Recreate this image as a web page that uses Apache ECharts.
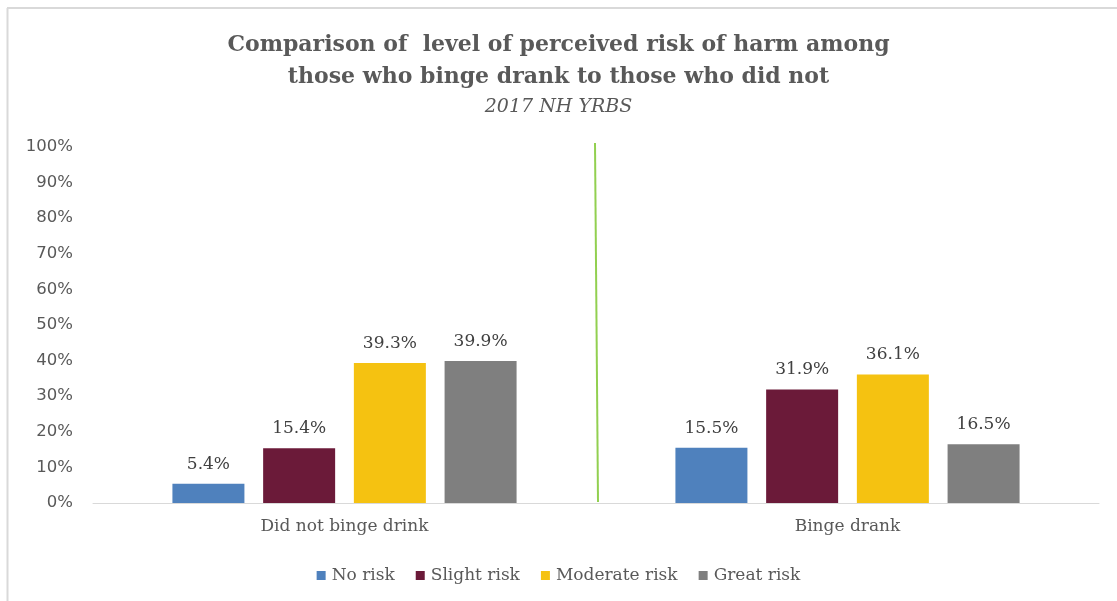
<!DOCTYPE html>
<html><head><meta charset="utf-8">
<script src="https://cdn.jsdelivr.net/npm/echarts@6/dist/echarts.min.js"></script>
<style>html,body{margin:0;padding:0;background:#fff}#c{width:1117px;height:601px}</style>
</head><body><div id="c"></div>
<script>
const categories = ["Did not binge drink", "Binge drank"];
const seriesNames = ["No risk", "Slight risk", "Moderate risk", "Great risk"];
const noRisk = [5.4, 15.5];
const slightRisk = [15.4, 31.9];
const moderateRisk = [39.3, 36.1];
const greatRisk = [39.9, 16.5];
const colors = ["#4f81bd", "#6b1a39", "#f5c211", "#7f7f7f"];
const titleLines = ["Comparison of  level of perceived risk of harm among", "those who binge drank to those who did not"];
const subtitle = "2017 NH YRBS";

const values = [noRisk, slightRisk, moderateRisk, greatRisk];
const serif = 'DejaVu Serif';
const chart = echarts.init(document.getElementById('c'));
chart.setOption({
  animation: false,
  title: {
    text: titleLines.join('\n'),
    subtext: subtitle,
    left: 'center', top: 24, itemGap: 5,
    textStyle: {fontFamily: serif, fontWeight: 'bold', fontSize: 22, color: '#595959', lineHeight: 32},
    subtextStyle: {fontFamily: serif, fontStyle: 'italic', fontSize: 19, color: '#595959'}
  },
  legend: {
    bottom: 12, left: 'center', itemWidth: 9, itemHeight: 9, itemGap: 21,
    icon: 'rect',
    textStyle: {fontFamily: serif, fontSize: 17, color: '#595959', padding: [0,0,0,1]},
    data: seriesNames
  },
  grid: {left: 93, right: 18, top: 147, bottom: 98},
  xAxis: {
    type: 'category', data: categories,
    axisLine: {lineStyle: {color: '#d9d9d9', width: 1}},
    axisTick: {show: false},
    axisLabel: {fontFamily: serif, fontSize: 17, color: '#595959', margin: 15}
  },
  yAxis: {
    type: 'value', min: 0, max: 100, interval: 10,
    axisLabel: {formatter: '{value}%', fontFamily: 'DejaVu Sans', fontSize: 16.5, color: '#595959', margin: 20},
    splitLine: {show: false}, axisLine: {show: false}, axisTick: {show: false}
  },
  series: seriesNames.map((n, i) => ({
    name: n, type: 'bar', data: values[i],
    barWidth: 72, barGap: '26%',
    itemStyle: {color: colors[i]},
    label: {show: true, position: 'top', distance: 11, formatter: p => p.value.toFixed(1) + '%',
      fontFamily: serif, fontSize: 17, color: '#404040'}
  })),
  graphic: [
    {type: 'line', shape: {x1: 7.5, y1: 8, x2: 7.5, y2: 601}, style: {stroke: '#d9d9d9', lineWidth: 2}},
    {type: 'line', shape: {x1: 7, y1: 8, x2: 1117, y2: 8}, style: {stroke: '#d9d9d9', lineWidth: 2}},
    {type: 'line', shape: {x1: 595, y1: 143, x2: 598, y2: 502}, style: {stroke: '#92d050', lineWidth: 2}}
  ]
});
</script></body></html>
